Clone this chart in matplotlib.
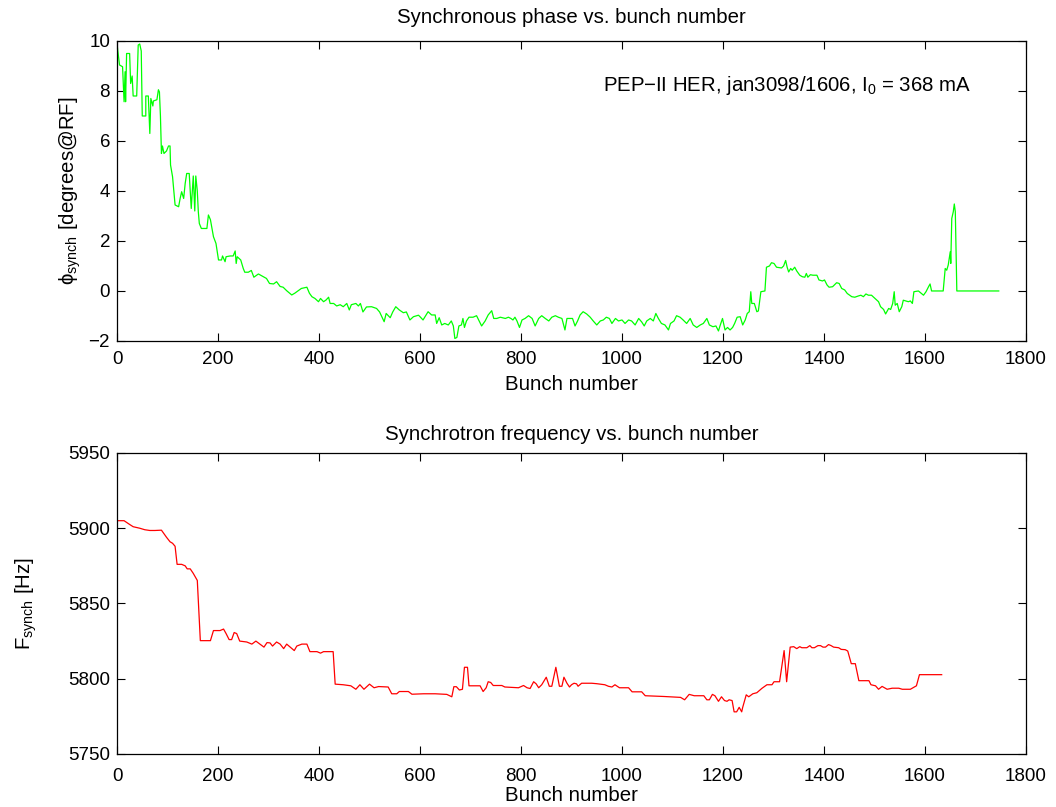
import matplotlib
matplotlib.use("Agg")
import matplotlib.pyplot as plt

# ---------------- data ----------------
phase_bunch = [0, 5, 11, 14, 16, 17, 19, 25, 27, 30, 32, 39, 42, 45, 48, 50, 57, 57, 62, 65,
               67, 71, 72, 79, 82, 84, 86, 88, 90, 93, 98, 102, 105, 106, 110, 115, 122, 125,
               128, 132, 135, 138, 143, 147, 151, 154, 156, 159, 161, 163, 167, 178, 181, 185,
               191, 196, 201, 207, 209, 214, 216, 224, 230, 234, 236, 238, 245, 250, 253, 260,
               266, 271, 280, 290, 296, 302, 310, 316, 323, 329, 336, 346, 352, 359, 365, 376,
               381, 386, 392, 399, 403, 409, 414, 419, 422, 429, 435, 442, 448, 455, 460, 464,
               473, 478, 482, 487, 494, 504, 514, 520, 529, 533, 541, 546, 552, 559, 567, 573,
               580, 587, 597,
               600, 606, 616, 623, 630, 633, 638, 643, 649, 656, 662, 666, 669, 673, 677, 682,
               685, 688, 692, 697, 705, 712, 717, 722, 729, 735, 742, 746, 752, 759, 769, 775,
               780, 784, 788, 792, 797, 802, 808, 815, 822, 828, 835, 841, 848, 855, 861, 868,
               874, 881, 887, 891, 896, 902, 907, 912, 917, 923, 930, 937, 943, 950, 957, 963,
               969, 975, 980, 987, 993, 1000, 1006, 1013, 1019, 1026, 1033, 1039, 1044, 1049,
               1056, 1062, 1067, 1072, 1078, 1085, 1092, 1096, 1103, 1108, 1115, 1121, 1128,
               1135, 1141, 1148, 1155, 1161, 1168, 1173, 1180, 1186, 1191, 1194, 1199, 1204,
               1209, 1214, 1219, 1223, 1228,
               1234, 1239, 1244, 1248, 1252, 1255, 1257, 1262, 1267, 1270, 1275, 1283, 1286,
               1292, 1296, 1301, 1306, 1316, 1320, 1324, 1327, 1330, 1334, 1337, 1342, 1346,
               1352, 1357, 1362, 1365, 1368, 1373, 1378, 1386, 1390, 1397, 1401, 1406, 1410,
               1417, 1425, 1430, 1435, 1441, 1446, 1455, 1461, 1468, 1473, 1478, 1483, 1488,
               1494, 1501, 1508, 1512, 1518, 1522, 1528, 1532, 1536, 1539, 1541, 1545, 1549,
               1554, 1557, 1562, 1567, 1571, 1575, 1578, 1587, 1593, 1597, 1602, 1607, 1610,
               1613, 1636, 1640, 1643, 1646, 1650, 1651, 1653, 1656, 1658, 1660, 1663, 1746]
phase_deg = [9.88, 9.04, 8.97, 7.57, 8.77, 7.57, 9.5, 9.5, 8.3, 8.6, 7.8, 7.8, 9.84, 9.88, 9.6,
             7.0, 7.0, 7.8, 7.8, 6.3, 7.7, 7.4, 7.6, 7.65, 8.05, 7.96, 7.0, 5.5, 5.8, 5.5, 5.6,
             5.8, 5.8, 5.04, 4.57, 3.44, 3.37, 3.7, 3.97, 3.7, 4.3, 4.7, 4.7, 3.3, 4.6, 3.2, 4.6,
             4.0, 3.17, 2.7, 2.5, 2.5, 3.04, 2.85, 2.17, 1.9, 1.24, 1.24, 1.4, 1.17, 1.37, 1.4,
             1.4, 1.6, 1.1, 1.37, 1.24, 0.9, 0.75, 0.75, 0.82, 0.55, 0.68, 0.57, 0.5, 0.3, 0.28,
             0.37, 0.18, 0.15, 0.01, -0.16, -0.09, 0.01, 0.1, 0.15, -0.09, -0.23, -0.3, -0.43,
             -0.3, -0.43, -0.36, -0.25, -0.5, -0.5, -0.6, -0.55, -0.63, -0.5, -0.76, -0.55, -0.5,
             -0.6, -0.5, -0.84, -0.64, -0.63, -0.7, -0.84, -1.23, -0.9, -1.07, -0.84, -0.63,
             -0.76, -0.87, -0.84, -1.16, -1.03, -0.97,
             -1.03, -1.16, -0.83, -0.96, -0.96, -1.3, -1.07, -1.36, -1.3, -1.36, -1.2, -1.4,
             -1.9, -1.86, -1.4, -1.36, -1.1, -1.46, -1.2, -1.05, -1.05, -0.99, -1.2, -1.4, -1.2,
             -0.96, -0.79, -1.1, -1.1, -1.05, -1.1, -1.05, -1.1, -1.16, -1.05, -1.2, -1.46,
             -1.16, -1.1, -0.99, -1.1, -1.4, -1.1, -0.99, -1.1, -1.2, -1.05, -0.99, -1.05, -1.1,
             -1.56, -1.1, -1.1, -1.1, -1.4, -1.2, -0.96, -0.83, -0.92, -1.05, -1.2, -1.36, -1.2,
             -1.16, -1.05, -1.1, -1.3, -1.1, -1.2, -1.16, -1.3, -1.16, -1.2, -1.36, -1.1, -1.24,
             -1.4, -1.2, -1.1, -1.2, -0.9, -1.1, -1.3, -1.36, -1.56, -1.3, -1.2, -0.99, -1.05,
             -1.16, -1.3, -1.1, -1.36, -1.46, -1.36, -1.3, -1.1, -1.36, -1.43, -1.4, -1.6, -1.4,
             -1.1, -1.56, -1.46, -1.56, -1.46, -1.3, -1.05,
             -1.03, -1.36, -1.16, -0.9, -0.83, -0.03, -0.5, -0.5, -0.83, -0.8, -0.03, 0.0, 0.95,
             1.0, 1.13, 1.1, 0.95, 0.92, 1.0, 1.22, 0.95, 0.76, 0.9, 0.83, 0.95, 0.8, 0.63, 0.57,
             0.55, 0.7, 0.55, 0.65, 0.63, 0.63, 0.44, 0.4, 0.44, 0.24, 0.15, 0.17, 0.33, 0.3,
             0.1, 0.04, -0.1, -0.23, -0.25, -0.2, -0.17, -0.23, -0.12, -0.17, -0.17, -0.3, -0.43,
             -0.63, -0.74, -0.92, -0.7, -0.74, -0.5, -0.03, -0.57, -0.5, -0.83, -0.63, -0.37,
             -0.4, -0.43, -0.4, -0.5, -0.03, 0.0, -0.1, -0.17, -0.03, 0.17, 0.28, 0.0, 0.0, 0.9,
             0.83, 1.04, 1.57, 1.1, 2.9, 3.17, 3.48, 3.17, 0.0, 0.0]

freq_bunch = [0, 14, 25, 32, 45, 55, 65, 75, 88, 98, 105, 110, 115, 119, 128, 135, 139, 145,
              151, 159, 165, 185, 191, 196, 204, 211, 216, 222, 227, 232, 237, 243, 257, 267,
              275, 283, 291, 297, 303, 308, 316, 323, 330, 336, 343, 351, 356, 366, 376, 382,
              396, 403, 409, 428, 432, 448, 463, 473, 481, 489, 500, 509, 518, 537, 544, 554,
              559, 577, 584, 607, 630, 653, 663, 667, 672, 678, 684, 688, 694, 697, 719, 725,
              731, 735, 740, 745, 762, 768, 795, 805, 812, 818, 825, 830, 835, 841, 850, 856,
              861, 869, 876, 881, 885, 891, 896, 900, 905, 910, 913, 920, 930, 940, 950, 966,
              973, 980, 986, 995, 1013, 1020, 1039, 1046, 1083, 1116, 1124, 1133, 1143, 1162,
              1168, 1173, 1179, 1184, 1191, 1197, 1203, 1208, 1212, 1218, 1222, 1227, 1232,
              1237, 1239, 1246, 1251, 1259, 1267, 1277, 1287, 1297, 1301, 1312, 1321, 1326,
              1333, 1340, 1346, 1352, 1356, 1366, 1372, 1376, 1381, 1388, 1393, 1398, 1403,
              1409, 1414, 1419, 1429, 1434, 1442, 1447, 1454, 1462, 1469, 1489, 1493, 1502,
              1508, 1515, 1525, 1535, 1548, 1555, 1571, 1583, 1589, 1633]
freq_hz = [5905, 5905, 5902.5, 5901, 5900, 5899, 5898.5, 5898.5, 5898.7, 5894, 5891, 5890,
           5888, 5876, 5876, 5875, 5873, 5873, 5870, 5865.3, 5825.3, 5825.3, 5832, 5832, 5832,
           5833, 5830, 5826, 5826, 5830.7, 5830, 5825, 5824.4, 5823, 5825, 5823, 5821, 5824,
           5823.8, 5821.7, 5824.4, 5823, 5820, 5823, 5821, 5818.7, 5821.7, 5823, 5823, 5818,
           5818, 5817, 5818, 5818, 5796.4, 5796, 5795.3, 5793, 5796, 5793, 5796.4, 5794,
           5794.8, 5794.5, 5790, 5790, 5791.5, 5791.5, 5789.7, 5790, 5790, 5789.6, 5788,
           5794.7, 5794.7, 5792.5, 5793, 5807.6, 5807.6, 5795.3, 5795.3, 5791.5, 5794, 5798,
           5797.5, 5795.5, 5795.5, 5794.5, 5794, 5795.5, 5794, 5793.5, 5798, 5796.6, 5794,
           5796, 5801, 5795, 5795, 5807.6, 5795, 5795, 5801, 5797, 5794.5, 5796, 5797, 5796.6,
           5795, 5797, 5797, 5797, 5796.7, 5796, 5795, 5794.5, 5796, 5794, 5794, 5791.3,
           5791.3, 5788.7, 5788.2, 5787.6, 5786, 5789.6, 5788.7, 5788.7, 5786, 5786, 5789.6,
           5788.7, 5785, 5788, 5785.5, 5785, 5786, 5785.5, 5778, 5778, 5781, 5778, 5781,
           5789.3, 5788, 5790, 5790.7, 5793.6, 5796, 5796, 5798, 5798, 5818.7, 5798, 5821,
           5821.3, 5820, 5821.3, 5820.6, 5820.6, 5822, 5820.6, 5820.6, 5822, 5822, 5821, 5821,
           5822.7, 5822, 5821, 5820.6, 5819.5, 5819.3, 5818.4, 5810, 5810, 5798.7, 5798.7,
           5796, 5795.3, 5793, 5794.9, 5793, 5793.7, 5793.7, 5793, 5793, 5795.3, 5802.7,
           5802.7]

x_ticks = [0, 200, 400, 600, 800, 1000, 1200, 1400, 1600, 1800]
phase_ticks = [-2, 0, 2, 4, 6, 8, 10]
freq_ticks = [5750, 5800, 5850, 5900, 5950]

# ---------------- style ----------------
plt.rcParams['font.family'] = ['Liberation Sans', 'DejaVu Sans']
plt.rcParams['mathtext.fontset'] = 'custom'
plt.rcParams['mathtext.rm'] = 'Liberation Sans'
plt.rcParams['mathtext.it'] = 'Liberation Sans:italic'
plt.rcParams['mathtext.bf'] = 'Liberation Sans:bold'

TICK_FS = 13.5
LAB_FS = 14.7

fig = plt.figure(figsize=(10.56, 8.07), dpi=100)
ax1 = fig.add_axes([0.1108, 0.5775, 0.8608, 0.3717])
ax2 = fig.add_axes([0.1108, 0.0657, 0.8608, 0.3730])

for ax in (ax1, ax2):
    ax.set_xlim(0, 1800)
    ax.set_xticks(x_ticks)
    ax.tick_params(direction='in', top=True, right=True, length=6, width=0.8,
                   labelsize=TICK_FS, pad=5)
    for s in ax.spines.values():
        s.set_linewidth(0.9)

ax1.tick_params(axis='x', pad=7)
ax2.tick_params(axis='x', pad=10)

ax1.plot(phase_bunch, phase_deg, color=(0, 1, 0), lw=0.9)
ax1.set_ylim(-2, 10)
ax1.set_yticks(phase_ticks)
ax1.set_xlabel('Bunch number', fontsize=LAB_FS, labelpad=5)
ax1.set_title('Synchronous phase vs. bunch number', fontsize=LAB_FS, pad=13)
ax1.set_ylabel(r'$\mathrm{\phi}_{\mathrm{synch}}$ [degrees@RF]', fontsize=LAB_FS, labelpad=4)
ax1.text(962, 8.0, r'PEP$-$II HER, jan3098/1606, I$_0$ = 368 mA', fontsize=LAB_FS,
         ha='left', va='baseline')

ax2.plot(freq_bunch, freq_hz, color=(1, 0, 0), lw=0.9)
ax2.set_ylim(5750, 5950)
ax2.set_yticks(freq_ticks)
ax2.set_xlabel('Bunch number', fontsize=LAB_FS, labelpad=1)
ax2.set_title('Synchrotron frequency vs. bunch number', fontsize=LAB_FS, pad=9)
ax2.set_ylabel(r'F$_{\mathrm{synch}}$ [Hz]', fontsize=LAB_FS, labelpad=21)

fig.savefig('out.png', dpi=100)
